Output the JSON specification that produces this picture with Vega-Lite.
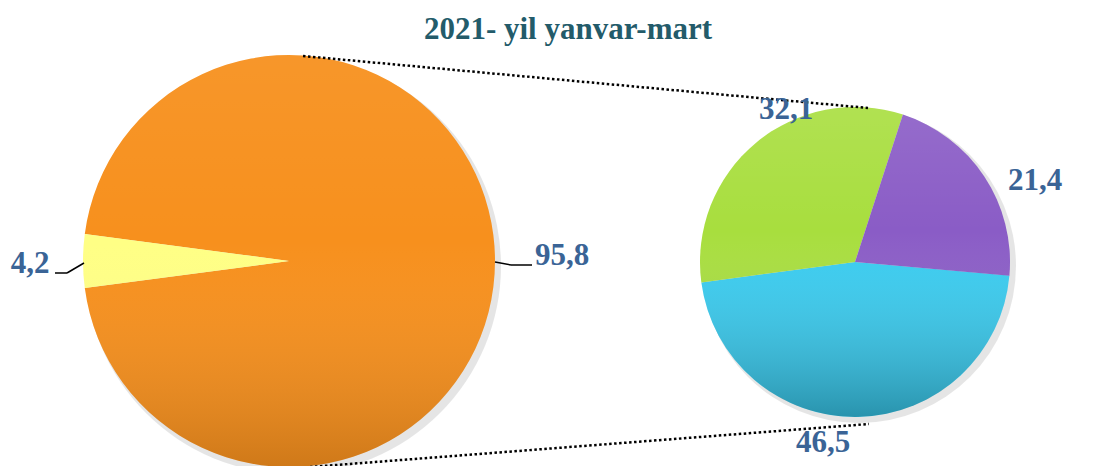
{
  "$schema": "https://vega.github.io/schema/vega-lite/v6.json",
  "width": 1101,
  "height": 466,
  "padding": 0,
  "autosize": {"type": "none"},
  "background": "white",
  "config": {
    "view": {"stroke": null},
    "locale": {"number": {"decimal": ",", "thousands": " ", "grouping": [3], "currency": ["", ""]}}
  },
  "datasets": {
    "main": [
      {"category": "Asosiy", "value": 95.8},
      {"category": "Boshqa", "value": 4.2}
    ],
    "other": [
      {"category": "Boshqa A", "value": 46.5},
      {"category": "Boshqa B", "value": 32.1},
      {"category": "Boshqa C", "value": 21.4}
    ]
  },
  "data": {"values": [{}]},
  "resolve": {"scale": {"theta": "independent"}},
  "layer": [
    {
      "mark": {"type": "arc", "radius": 208, "color": "#000000", "opacity": 0.1},
      "encoding": {
        "x": {"datum": 293, "type": "quantitative", "scale": {"domain": [0, 1101], "nice": false, "zero": false}, "axis": null},
        "y": {"datum": 266, "type": "quantitative", "scale": {"domain": [0, 466], "nice": false, "zero": false, "reverse": true}, "axis": null}
      }
    },
    {
      "mark": {"type": "arc", "radius": 157, "color": "#000000", "opacity": 0.1},
      "encoding": {
        "x": {"datum": 859, "type": "quantitative", "scale": {"domain": [0, 1101], "nice": false, "zero": false}, "axis": null},
        "y": {"datum": 266, "type": "quantitative", "scale": {"domain": [0, 466], "nice": false, "zero": false, "reverse": true}, "axis": null}
      }
    },
    {
      "data": {"name": "main"},
      "mark": {"type": "arc", "radius": 206},
      "encoding": {
        "x": {"datum": 289, "type": "quantitative", "scale": {"domain": [0, 1101], "nice": false, "zero": false}, "axis": null},
        "y": {"datum": 261, "type": "quantitative", "scale": {"domain": [0, 466], "nice": false, "zero": false, "reverse": true}, "axis": null},
        "theta": {"field": "value", "type": "quantitative", "stack": true, "scale": {"range": [4.8444, 11.1276]}},
        "order": {"field": "value", "sort": "descending"},
        "color": {
          "field": "category", "type": "nominal", "legend": null,
          "scale": {"domain": ["Asosiy", "Boshqa", "Boshqa A", "Boshqa B", "Boshqa C"], "range": ["#F7901D", "#FFFF85", "#38CCF0", "#A8DE3E", "#8A5CC6"]}
        }
      }
    },
    {
      "data": {"name": "other"},
      "mark": {"type": "arc", "radius": 155},
      "encoding": {
        "x": {"datum": 855, "type": "quantitative", "scale": {"domain": [0, 1101], "nice": false, "zero": false}, "axis": null},
        "y": {"datum": 262, "type": "quantitative", "scale": {"domain": [0, 466], "nice": false, "zero": false, "reverse": true}, "axis": null},
        "theta": {"field": "value", "type": "quantitative", "stack": true, "scale": {"range": [1.6588, 7.942]}},
        "order": {"field": "value", "sort": "descending"},
        "color": {
          "field": "category", "type": "nominal", "legend": null,
          "scale": {"domain": ["Asosiy", "Boshqa", "Boshqa A", "Boshqa B", "Boshqa C"], "range": ["#F7901D", "#FFFF85", "#38CCF0", "#A8DE3E", "#8A5CC6"]}
        }
      }
    },
    {
      "mark": {"type": "arc", "radius": 206, "color": {"gradient": "linear", "x1": 0, "y1": 0, "x2": 0, "y2": 1, "stops": [{"offset": 0, "color": "rgba(255,255,255,0.06)"}, {"offset": 0.45, "color": "rgba(255,255,255,0)"}, {"offset": 1, "color": "rgba(0,0,0,0.16)"}]}},
      "encoding": {
        "x": {"datum": 289, "type": "quantitative", "scale": {"domain": [0, 1101], "nice": false, "zero": false}, "axis": null},
        "y": {"datum": 261, "type": "quantitative", "scale": {"domain": [0, 466], "nice": false, "zero": false, "reverse": true}, "axis": null}
      }
    },
    {
      "mark": {"type": "arc", "radius": 155, "color": {"gradient": "linear", "x1": 0, "y1": 0, "x2": 0, "y2": 1, "stops": [{"offset": 0, "color": "rgba(255,255,255,0.1)"}, {"offset": 0.4, "color": "rgba(255,255,255,0)"}, {"offset": 1, "color": "rgba(0,0,0,0.28)"}]}},
      "encoding": {
        "x": {"datum": 855, "type": "quantitative", "scale": {"domain": [0, 1101], "nice": false, "zero": false}, "axis": null},
        "y": {"datum": 262, "type": "quantitative", "scale": {"domain": [0, 466], "nice": false, "zero": false, "reverse": true}, "axis": null}
      }
    },
    {
      "mark": {"type": "rule", "color": "#000000", "strokeWidth": 2.5, "strokeDash": [2.5, 2.5]},
      "encoding": {
        "x": {"datum": 303, "type": "quantitative", "scale": {"domain": [0, 1101], "nice": false, "zero": false}, "axis": null},
        "y": {"datum": 56, "type": "quantitative", "scale": {"domain": [0, 466], "nice": false, "zero": false, "reverse": true}, "axis": null},
        "x2": {"datum": 868},
        "y2": {"datum": 108}
      }
    },
    {
      "mark": {"type": "rule", "color": "#000000", "strokeWidth": 2.5, "strokeDash": [2.5, 2.5]},
      "encoding": {
        "x": {"datum": 310, "type": "quantitative", "scale": {"domain": [0, 1101], "nice": false, "zero": false}, "axis": null},
        "y": {"datum": 467, "type": "quantitative", "scale": {"domain": [0, 466], "nice": false, "zero": false, "reverse": true}, "axis": null},
        "x2": {"datum": 869},
        "y2": {"datum": 424}
      }
    },
    {
      "mark": {"type": "rule", "color": "#000000", "strokeWidth": 1.5},
      "encoding": {
        "x": {"datum": 55, "type": "quantitative", "scale": {"domain": [0, 1101], "nice": false, "zero": false}, "axis": null},
        "y": {"datum": 273, "type": "quantitative", "scale": {"domain": [0, 466], "nice": false, "zero": false, "reverse": true}, "axis": null},
        "x2": {"datum": 67},
        "y2": {"datum": 273}
      }
    },
    {
      "mark": {"type": "rule", "color": "#000000", "strokeWidth": 1.5},
      "encoding": {
        "x": {"datum": 67, "type": "quantitative", "scale": {"domain": [0, 1101], "nice": false, "zero": false}, "axis": null},
        "y": {"datum": 273, "type": "quantitative", "scale": {"domain": [0, 466], "nice": false, "zero": false, "reverse": true}, "axis": null},
        "x2": {"datum": 84},
        "y2": {"datum": 263}
      }
    },
    {
      "mark": {"type": "rule", "color": "#000000", "strokeWidth": 1.5},
      "encoding": {
        "x": {"datum": 495, "type": "quantitative", "scale": {"domain": [0, 1101], "nice": false, "zero": false}, "axis": null},
        "y": {"datum": 262, "type": "quantitative", "scale": {"domain": [0, 466], "nice": false, "zero": false, "reverse": true}, "axis": null},
        "x2": {"datum": 511},
        "y2": {"datum": 265}
      }
    },
    {
      "mark": {"type": "rule", "color": "#000000", "strokeWidth": 1.5},
      "encoding": {
        "x": {"datum": 511, "type": "quantitative", "scale": {"domain": [0, 1101], "nice": false, "zero": false}, "axis": null},
        "y": {"datum": 265, "type": "quantitative", "scale": {"domain": [0, 466], "nice": false, "zero": false, "reverse": true}, "axis": null},
        "x2": {"datum": 532},
        "y2": {"datum": 265}
      }
    },
    {
      "mark": {"type": "text", "font": "Liberation Serif", "fontWeight": "bold", "fontSize": 31, "color": "#235B6A", "align": "center", "baseline": "alphabetic"},
      "encoding": {
        "x": {"datum": 568, "type": "quantitative", "scale": {"domain": [0, 1101], "nice": false, "zero": false}, "axis": null},
        "y": {"datum": 39, "type": "quantitative", "scale": {"domain": [0, 466], "nice": false, "zero": false, "reverse": true}, "axis": null},
        "text": {"value": "2021- yil yanvar-mart"}
      }
    },
    {
      "data": {"name": "main"},
      "transform": [{"filter": "datum.category === 'Boshqa'"}],
      "mark": {"type": "text", "font": "Liberation Serif", "fontWeight": "bold", "fontSize": 31, "color": "#3A6496", "align": "center", "baseline": "alphabetic"},
      "encoding": {
        "x": {"datum": 30, "type": "quantitative", "scale": {"domain": [0, 1101], "nice": false, "zero": false}, "axis": null},
        "y": {"datum": 273, "type": "quantitative", "scale": {"domain": [0, 466], "nice": false, "zero": false, "reverse": true}, "axis": null},
        "text": {"field": "value", "type": "quantitative", "format": ".1f"}
      }
    },
    {
      "data": {"name": "main"},
      "transform": [{"filter": "datum.category === 'Asosiy'"}],
      "mark": {"type": "text", "font": "Liberation Serif", "fontWeight": "bold", "fontSize": 31, "color": "#3A6496", "align": "center", "baseline": "alphabetic"},
      "encoding": {
        "x": {"datum": 562, "type": "quantitative", "scale": {"domain": [0, 1101], "nice": false, "zero": false}, "axis": null},
        "y": {"datum": 265, "type": "quantitative", "scale": {"domain": [0, 466], "nice": false, "zero": false, "reverse": true}, "axis": null},
        "text": {"field": "value", "type": "quantitative", "format": ".1f"}
      }
    },
    {
      "data": {"name": "other"},
      "transform": [{"filter": "datum.category === 'Boshqa B'"}],
      "mark": {"type": "text", "font": "Liberation Serif", "fontWeight": "bold", "fontSize": 31, "color": "#3A6496", "align": "center", "baseline": "alphabetic"},
      "encoding": {
        "x": {"datum": 786, "type": "quantitative", "scale": {"domain": [0, 1101], "nice": false, "zero": false}, "axis": null},
        "y": {"datum": 119, "type": "quantitative", "scale": {"domain": [0, 466], "nice": false, "zero": false, "reverse": true}, "axis": null},
        "text": {"field": "value", "type": "quantitative", "format": ".1f"}
      }
    },
    {
      "data": {"name": "other"},
      "transform": [{"filter": "datum.category === 'Boshqa C'"}],
      "mark": {"type": "text", "font": "Liberation Serif", "fontWeight": "bold", "fontSize": 31, "color": "#3A6496", "align": "center", "baseline": "alphabetic"},
      "encoding": {
        "x": {"datum": 1035, "type": "quantitative", "scale": {"domain": [0, 1101], "nice": false, "zero": false}, "axis": null},
        "y": {"datum": 190, "type": "quantitative", "scale": {"domain": [0, 466], "nice": false, "zero": false, "reverse": true}, "axis": null},
        "text": {"field": "value", "type": "quantitative", "format": ".1f"}
      }
    },
    {
      "data": {"name": "other"},
      "transform": [{"filter": "datum.category === 'Boshqa A'"}],
      "mark": {"type": "text", "font": "Liberation Serif", "fontWeight": "bold", "fontSize": 31, "color": "#3A6496", "align": "center", "baseline": "alphabetic"},
      "encoding": {
        "x": {"datum": 823, "type": "quantitative", "scale": {"domain": [0, 1101], "nice": false, "zero": false}, "axis": null},
        "y": {"datum": 452, "type": "quantitative", "scale": {"domain": [0, 466], "nice": false, "zero": false, "reverse": true}, "axis": null},
        "text": {"field": "value", "type": "quantitative", "format": ".1f"}
      }
    }
  ]
}
